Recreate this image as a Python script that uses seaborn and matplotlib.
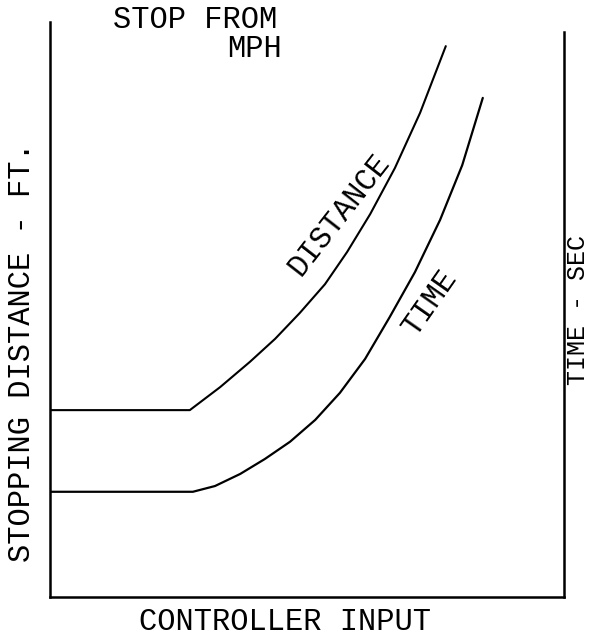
import matplotlib
matplotlib.use("Agg")
import matplotlib.pyplot as plt
import seaborn as sns
import pandas as pd

# controller input (arbitrary units) vs. stopping distance / time (arbitrary units)
distance_x = [0.0, 2.72, 3.31, 3.89, 4.38, 4.86, 5.35, 5.78, 6.23, 6.71, 7.20, 7.70]
distance_y = [3.25, 3.25, 3.65, 4.09, 4.49, 4.94, 5.44, 6.00, 6.66, 7.46, 8.42, 9.58]
time_x = [0.0, 2.78, 3.21, 3.70, 4.18, 4.67, 5.16, 5.64, 6.13, 6.61, 7.10, 7.59, 8.02, 8.42]
time_y = [1.83, 1.83, 1.93, 2.14, 2.40, 2.70, 3.08, 3.55, 4.14, 4.87, 5.65, 6.56, 7.51, 8.68]

sns.set_theme(style="white")
plt.rcParams['font.family'] = ['Liberation Mono', 'DejaVu Sans']

fig = plt.figure(figsize=(5.92, 6.38), dpi=100)
ax = fig.add_axes([50/592, 41/638, 514/592, 575/638])

df_d = pd.DataFrame({"x": distance_x, "y": distance_y})
df_t = pd.DataFrame({"x": time_x, "y": time_y})
sns.lineplot(data=df_d, x="x", y="y", sort=False, estimator=None, color="black", lw=1.5, ax=ax)
sns.lineplot(data=df_t, x="x", y="y", sort=False, estimator=None, color="black", lw=1.6, ax=ax)

ax.set_xlim(0, 10)
ax.set_ylim(0, 10)
ax.set_xticks([])
ax.set_yticks([])
ax.set_xlabel("")
ax.set_ylabel("")
for s in ["left", "bottom", "right"]:
    ax.spines[s].set_visible(True)
    ax.spines[s].set_color("black")
    ax.spines[s].set_linewidth(1.8)
ax.spines["top"].set_visible(False)
ax.spines["right"].set_bounds(0, 9.83)

fs = 22
tkw = dict(fontsize=fs, color="black", family=['Liberation Mono', 'DejaVu Sans'])
fig.text(195/592, 1 - 20/638, "STOP FROM", ha="center", va="center", **tkw)
fig.text(282/592, 1 - 49/638, "MPH", ha="right", va="center", **tkw)
fig.text(285/592, 1 - 622/638, "CONTROLLER INPUT", ha="center", va="center", **tkw)
fig.text(22/592, 1 - 352/638, "STOPPING DISTANCE - FT.", ha="center", va="center", rotation=90, **tkw)
fig.text(578/592, 1 - 310/638, "TIME - SEC", ha="center", va="center", rotation=90,
         fontsize=18, color="black", family=['Liberation Mono', 'DejaVu Sans'])
fig.text(339/592, 1 - 215/638, "DISTANCE", ha="center", va="center", rotation=52, rotation_mode="anchor", **tkw)
fig.text(430/592, 1 - 303/638, "TIME", ha="center", va="center", rotation=55, rotation_mode="anchor", **tkw)

fig.savefig("out.png", dpi=100)
